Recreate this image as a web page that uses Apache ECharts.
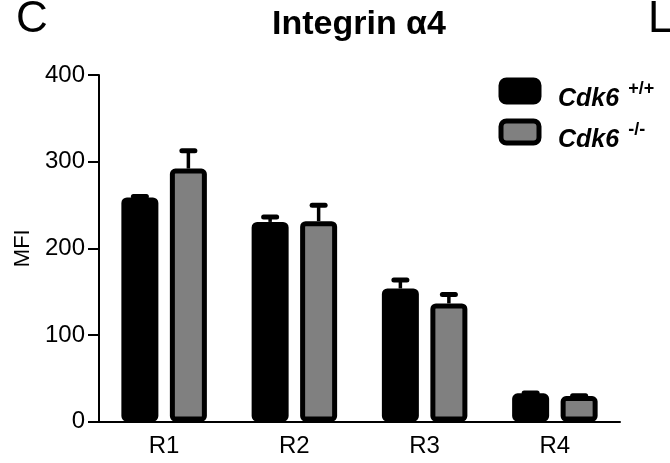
<!DOCTYPE html>
<html>
<head>
<meta charset="utf-8">
<script src="https://cdn.jsdelivr.net/npm/echarts@6/dist/echarts.min.js"></script>
<style>
  html, body { margin: 0; padding: 0; background: #fff; }
  #chart { width: 670px; height: 463px; }
</style>
</head>
<body>
<div id="chart"></div>
<script>
  const categories = ['R1', 'R2', 'R3', 'R4'];
  const wtValues = [258.6, 230.4, 153.6, 32.5];
  const wtErrors = [1, 5.7, 9.8, 0.5];
  const koValues = [292, 231.3, 136.3, 29.4];
  const koErrors = [20.6, 18.2, 10.2, 0.4];
  const seriesNames = ['Cdk6 +/+', 'Cdk6 -/-'];
  const seriesSups = ['+/+', '-/-'];

  const FONT = '"Liberation Sans", Arial, sans-serif';
  const BAR_W = 37;
  const GAP = 11.5;
  const OFFSET = (BAR_W + GAP) / 2;

  // upper error bar only: stem from bar top + rounded cap
  function errorBar(offset) {
    return function (params, api) {
      const top = api.coord([api.value(0), api.value(1) + api.value(2)]);
      const base = api.coord([api.value(0), api.value(1)]);
      const x = top[0] + offset;
      return {
        type: 'group',
        children: [
          {type: 'rect', shape: {x: x - 1.75, y: top[1], width: 3.5, height: base[1] - top[1]}, style: {fill: '#000'}},
          {type: 'rect', shape: {x: x - 9, y: top[1] - 2.5, width: 18, height: 5, r: 2.5}, style: {fill: '#000'}}
        ]
      };
    };
  }

  const myChart = echarts.init(document.getElementById('chart'));
  myChart.setOption({
    animation: false,
    textStyle: {fontFamily: FONT},
    title: {
      text: 'Integrin α4',
      left: 272,
      top: 8,
      padding: 0,
      textStyle: {fontFamily: FONT, fontSize: 34, fontWeight: 'bold', color: '#000'}
    },
    graphic: [
      {type: 'text', left: 16, top: -2, style: {text: 'C', font: '44px ' + FONT, fill: '#000'}},
      {type: 'text', left: 648, top: -2, style: {text: 'L', font: '44px ' + FONT, fill: '#000'}}
    ],
    legend: {
      orient: 'vertical',
      left: 498.5,
      top: 70.5,
      padding: 0,
      itemGap: 0,
      itemWidth: 38,
      itemHeight: 22,
      icon: 'roundRect',
      data: seriesNames.map(n => ({name: n, itemStyle: {borderWidth: 5, borderColor: '#000'}})),
      formatter(name) {
        return '{a|Cdk6}{s|' + seriesSups[seriesNames.indexOf(name)] + '}';
      },
      textStyle: {
        color: '#000',
        rich: {
          a: {fontFamily: FONT, fontSize: 25, fontWeight: 'bold', fontStyle: 'italic', lineHeight: 24,
              padding: [16, 0, 0, 14]},
          s: {fontFamily: FONT, fontSize: 18, fontWeight: 'bold', lineHeight: 18,
              padding: [9, 0, 13, 9]}
        }
      }
    },
    grid: {left: 99, right: 50, top: 75, bottom: 41.5},
    xAxis: {
      type: 'category',
      data: categories,
      axisLine: {lineStyle: {color: '#000', width: 2}},
      axisTick: {alignWithLabel: true, length: 10, lineStyle: {color: '#000', width: 2}},
      axisLabel: {color: '#000', fontSize: 24, fontFamily: FONT, margin: 13}
    },
    yAxis: {
      type: 'value',
      min: 0,
      max: 400,
      interval: 100,
      name: 'MFI',
      nameLocation: 'middle',
      nameGap: 62,
      nameTextStyle: {color: '#000', fontSize: 22, fontFamily: FONT},
      splitLine: {show: false},
      axisLine: {show: true, lineStyle: {color: '#000', width: 2}},
      axisTick: {show: true, length: 11, lineStyle: {color: '#000', width: 2}},
      axisLabel: {color: '#000', fontSize: 24, fontFamily: FONT, margin: 14}
    },
    series: [
      {
        name: seriesNames[0],
        type: 'bar',
        barWidth: BAR_W,
        barGap: (GAP / BAR_W * 100) + '%',
        data: wtValues,
        itemStyle: {color: '#000', borderColor: '#000', borderWidth: 5, borderRadius: 3}
      },
      {
        name: seriesNames[1],
        type: 'bar',
        barWidth: BAR_W,
        data: koValues,
        itemStyle: {color: '#808080', borderColor: '#000', borderWidth: 5, borderRadius: 3}
      },
      {
        type: 'custom',
        silent: true,
        z: 3,
        renderItem: errorBar(-OFFSET),
        data: wtValues.map((v, i) => [i, v, wtErrors[i]])
      },
      {
        type: 'custom',
        silent: true,
        z: 3,
        renderItem: errorBar(OFFSET),
        data: koValues.map((v, i) => [i, v, koErrors[i]])
      }
    ]
  });
</script>
</body>
</html>
